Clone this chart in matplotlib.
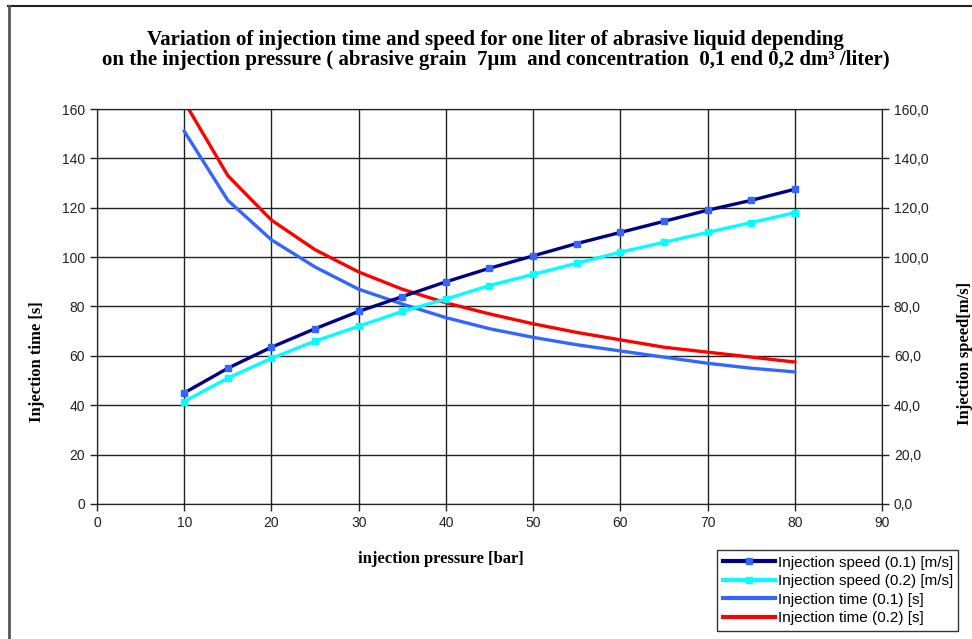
import matplotlib.pyplot as plt
from matplotlib.lines import Line2D

# pressure [bar]
pressure = [10, 15, 20, 25, 30, 35, 40, 45, 50, 55, 60, 65, 70, 75, 80]

speed_01 = [45, 55, 63.5, 71, 78, 84, 90, 95.5, 100.5, 105.5, 110, 114.5, 119, 123, 127.5]
speed_02 = [41.5, 51, 59, 66, 72, 78, 83, 88.5, 93, 97.5, 102, 106, 110, 114, 118]
time_01 = [151, 123, 107, 96, 87, 81, 75.5, 71, 67.5, 64.5, 62, 59.5, 57, 55, 53.5]
time_02 = [163, 133, 115, 103, 94, 87, 81.5, 77, 73, 69.5, 66.5, 63.5, 61.5, 59.5, 57.5]

labels = ['Injection speed (0.1) [m/s]', 'Injection speed (0.2) [m/s]',
          'Injection time (0.1) [s]', 'Injection time (0.2) [s]']

serif = 'Liberation Serif'
sans = 'Liberation Sans'

fig = plt.figure(figsize=(9.72, 6.39), dpi=100)
ax = fig.add_axes([0.0998, 0.2113, 0.8076, 0.6181])
ax2 = ax.twinx()

ax.plot(pressure, time_01, color='#3366FF', lw=2.4)
ax.plot(pressure, time_02, color='#FF0000', lw=2.4)
ax2.plot(pressure, speed_01, color='#000080', lw=2.4, marker='s', ms=4,
         mfc='#3366FF', mec='#3366FF')
ax2.plot(pressure, speed_02, color='#00FFFF', lw=2.4, marker='s', ms=4,
         mfc='#00FFFF', mec='#00FFFF')

ax.set_xlim(0, 90)
ax.set_ylim(0, 160)
ax2.set_ylim(0, 160)
ax.set_xticks(range(0, 91, 10))
ax.set_yticks(range(0, 161, 20))
ax2.set_yticks(range(0, 161, 20))
ax2.set_yticklabels([f'{v},0' for v in range(0, 161, 20)])
ax.grid(True, color='#222222', lw=1)
for a in (ax, ax2):
    a.tick_params(direction='out', length=5, width=1, color='#222222',
                  labelsize=10, labelcolor='#222222')
    for s in a.spines.values():
        s.set_color('#222222')
for t in ax.get_xticklabels() + ax.get_yticklabels() + ax2.get_yticklabels():
    t.set_family(sans)

ax.set_ylabel('Injection time [s]', family=serif, fontweight='bold', fontsize=12)
ax2.set_ylabel('Injection speed[m/s]', family=serif, fontweight='bold', fontsize=12)
ax.yaxis.set_label_coords(-0.066, 0.36)
ax2.yaxis.set_label_coords(1.095, 0.38)
fig.text(0.454, 0.125, 'injection pressure [bar]', family=serif,
         fontweight='bold', fontsize=12, ha='center', va='center')

fig.text(0.51, 0.922, 'Variation of injection time and speed for one liter of abrasive liquid depending\n'
         'on the injection pressure ( abrasive grain  7\u03bcm  and concentration  0,1 end 0,2 dm\u00b3 /liter)',
         family=serif, fontweight='bold', fontsize=15, ha='center', va='center',
         linespacing=0.98)

handles = [
    Line2D([], [], color='#000080', lw=3, marker='s', ms=4, mfc='#3366FF', mec='#3366FF'),
    Line2D([], [], color='#00FFFF', lw=3, marker='s', ms=4, mfc='#00FFFF', mec='#00FFFF'),
    Line2D([], [], color='#3366FF', lw=3),
    Line2D([], [], color='#FF0000', lw=3),
]
leg = fig.legend(handles, labels, loc='lower right', bbox_to_anchor=(0.986, 0.013),
                 prop={'family': sans, 'size': 11}, frameon=True, fancybox=False,
                 handlelength=3.4, handletextpad=0.2, labelspacing=0.3,
                 borderpad=0.35, borderaxespad=0)
leg.get_frame().set_edgecolor('#000000')
leg.get_frame().set_linewidth(1)

# outer chart frame
fig.add_artist(Line2D([0.008, 1.0], [0.991, 0.991], color='#222222', lw=1.5,
                      transform=fig.transFigure))
fig.add_artist(Line2D([0.009, 0.009], [0.0, 0.991], color='#555555', lw=2,
                      transform=fig.transFigure))

fig.savefig('out.png', dpi=100)
